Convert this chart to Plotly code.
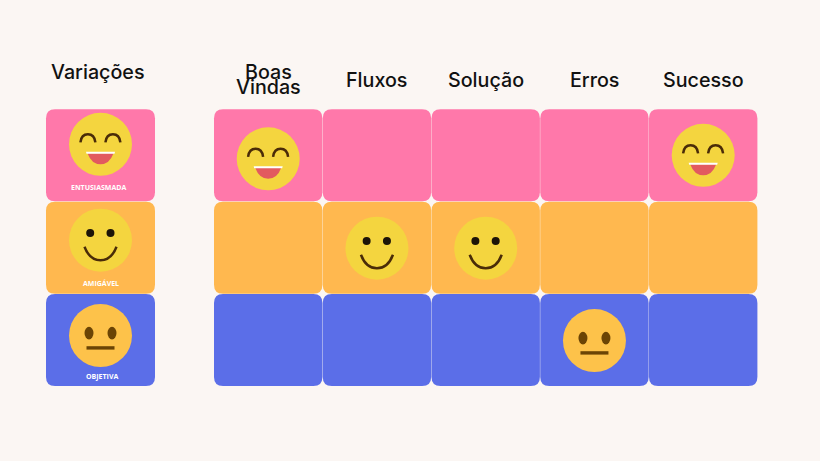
import plotly.graph_objects as go

# dados do quadro
colunas = ["Boas Vindas", "Fluxos", "Solução", "Erros", "Sucesso"]
variacoes = ["ENTUSIASMADA", "AMIGÁVEL", "OBJETIVA"]
titulo_legenda = "Variações"
# qual variação (linha) cada coluna usa
variacao_por_coluna = [0, 1, 1, 2, 0]

# estilo
cor_fundo = "#FBF6F3"
cor_linha = ["#FF78AA", "#FFB84F", "#5B6EE8"]
cor_rosto = ["#F4D53F", "#F4D53F", "#FDC24A"]
fonte = "Inter"

# layout em pixels da imagem
X_GRADE, X_LEG = 214.0, 46.0
PASSO_X, PASSO_Y = 108.75, 92.4
LARG, ALT = 108.4, 92.0
Y_TOPO = 109.3
# deslocamento do rosto em relação ao centro da célula
DESL_GRADE = {0: (0, 3.5), 4: (0, 0), 1: (0, 0.5), 2: (0, 0.5), 3: (0, 0.5)}
DESL_LEG = [(0, -11), (0, -7.5), (0, -4.5)]
Y_ROTULO = [187, 283, 376.7]
X_ROTULO = [98.5, 100.7, 102]


def retangulo(x0, y0, w, h, r, cor):
    x1, y1 = x0 + w, y0 + h
    p = (f"M {x0+r} {y0} L {x1-r} {y0} Q {x1} {y0} {x1} {y0+r} L {x1} {y1-r} Q {x1} {y1} {x1-r} {y1} "
         f"L {x0+r} {y1} Q {x0} {y1} {x0} {y1-r} L {x0} {y0+r} Q {x0} {y0} {x0+r} {y0} Z")
    return dict(type="path", path=p, fillcolor=cor, line_width=0, layer="below")


def curva(p, cor, larg=0, fill=None):
    d = dict(type="path", path=p, layer="above", line=dict(color=cor, width=larg))
    if fill:
        d["fillcolor"] = fill
    return d


def elipse(cx, cy, rx, ry, cor):
    return dict(type="circle", x0=cx - rx, x1=cx + rx, y0=cy - ry, y1=cy + ry,
                fillcolor=cor, line_width=0, layer="above")


def detalhes_rosto(v, cx, cy):
    marrom = "#4A2C08"
    if v == 0:
        s = []
        for dx in (-12.6, 12.4):
            s.append(curva(f"M {cx+dx-7.5} {cy-2} Q {cx+dx-6.5} {cy-10} {cx+dx} {cy-10} "
                           f"Q {cx+dx+6.5} {cy-10} {cx+dx+7.5} {cy-2}", marrom, 2.5))
        s.append(curva(f"M {cx-13} {cy+9} Q {cx-9} {cy+20} {cx} {cy+20} Q {cx+9} {cy+20} {cx+13} {cy+9} Z",
                       "#E25A5F", 0, "#E25A5F"))
        s.append(curva(f"M {cx-14.5} {cy+7.5} L {cx+14.5} {cy+7.5} L {cx+14} {cy+9.5} L {cx-14} {cy+9.5} Z",
                       "#FFFFFF", 0, "#FFFFFF"))
        return s
    if v == 1:
        return [elipse(cx - 10.3, cy - 7.3, 4, 4, "#1C1408"),
                elipse(cx + 10, cy - 7.3, 4, 4, "#1C1408"),
                curva(f"M {cx-16} {cy+6.5} Q {cx-11} {cy+20} {cx} {cy+20} Q {cx+11} {cy+20} {cx+16} {cy+6.5}",
                      marrom, 2.5)]
    return [elipse(cx - 11.5, cy - 2.5, 4.5, 6.3, "#6B4405"),
            elipse(cx + 11.5, cy - 2.5, 4.5, 6.3, "#6B4405"),
            curva(f"M {cx-14} {cy+10.6} L {cx+14} {cy+10.6} L {cx+14} {cy+14} L {cx-14} {cy+14} Z",
                  "#6B4405", 0, "#6B4405")]


shapes = []
anots = []
rosto_x, rosto_y, rosto_cor = [], [], []

for i, nome in enumerate(variacoes):
    y0 = Y_TOPO + i * PASSO_Y
    shapes.append(retangulo(X_LEG, y0, LARG + 0.6, ALT, 9, cor_linha[i]))
    for j in range(len(colunas)):
        shapes.append(retangulo(X_GRADE + j * PASSO_X, y0, LARG, ALT, 9, cor_linha[i]))
    # rosto da legenda
    cx = X_LEG + 54.5 + DESL_LEG[i][0]
    cy = y0 + ALT / 2 + DESL_LEG[i][1]
    rosto_x.append(cx)
    rosto_y.append(cy)
    rosto_cor.append(cor_rosto[i])
    shapes += detalhes_rosto(i, cx, cy)
    anots.append(dict(x=X_ROTULO[i], y=Y_ROTULO[i], text=f"<b>{nome}</b>", showarrow=False,
                      font=dict(family="Open Sans", size=7, color="#FFFFFF")))

for j, v in enumerate(variacao_por_coluna):
    cx = X_GRADE + j * PASSO_X + LARG / 2 + DESL_GRADE[j][0]
    cy = Y_TOPO + v * PASSO_Y + ALT / 2 + DESL_GRADE[j][1]
    rosto_x.append(cx)
    rosto_y.append(cy)
    rosto_cor.append(cor_rosto[v])
    shapes += detalhes_rosto(v, cx, cy)

# títulos
fonte_titulo = dict(family=fonte, size=19.7, color="#111111", weight=500)
anots.append(dict(x=98.3, y=72, text=titulo_legenda, showarrow=False, font=fonte_titulo))
for j, nome in enumerate(colunas):
    cx = X_GRADE + j * PASSO_X + LARG / 2
    partes = nome.split(" ")
    if len(partes) == 2:
        ys = [72, 87]
    else:
        ys = [80]
    for parte, y in zip(partes, ys):
        anots.append(dict(x=cx, y=y, text=parte, showarrow=False, font=fonte_titulo))

fig = go.Figure(go.Scatter(x=rosto_x, y=rosto_y, mode="markers", hoverinfo="skip",
                           marker=dict(size=63, color=rosto_cor, line_width=0)))

fig.update_layout(width=820, height=461, margin=dict(l=0, r=0, t=0, b=0), showlegend=False,
                  paper_bgcolor=cor_fundo, plot_bgcolor=cor_fundo, shapes=shapes, annotations=anots)
fig.update_xaxes(range=[0, 820], visible=False)
fig.update_yaxes(range=[461, 0], visible=False)

# tira a margem padrão do body para a figura ocupar a janela inteira
fig.write_html("out.html", config={"displayModeBar": False},
               post_script="document.body.style.margin='0';document.body.style.overflow='hidden';"
                           "document.body.style.background='" + cor_fundo + "';")
